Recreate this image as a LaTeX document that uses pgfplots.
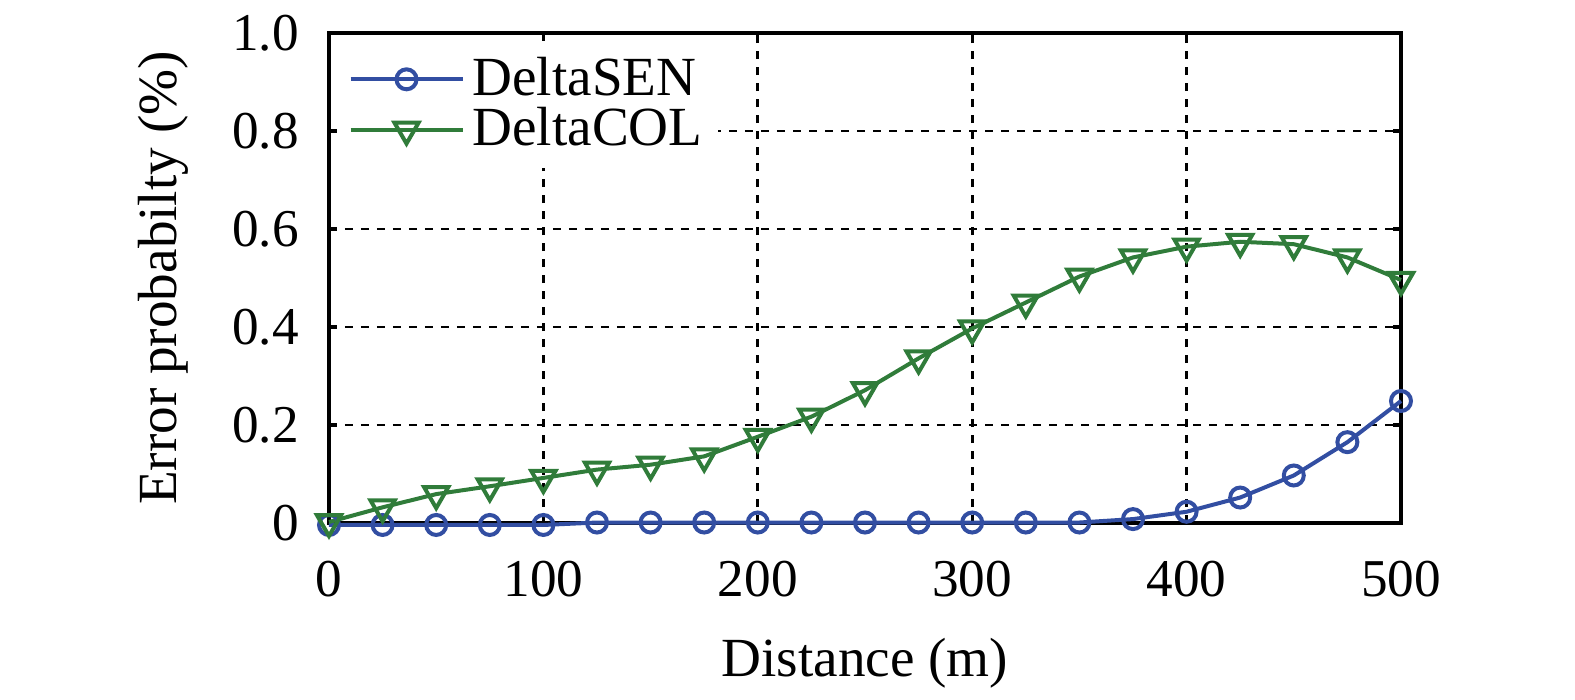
\documentclass[border=0pt]{standalone}
\usepackage{pgfplots}
\pgfplotsset{compat=1.18}
\usepackage{fontspec}
\setmainfont{Liberation Serif}
\definecolor{cblue}{RGB}{50,78,162}
\definecolor{cgreen}{RGB}{48,124,58}
\begin{document}
\begin{tikzpicture}
\begin{axis}[
  name=ax,
  scale only axis,
  width=268pt, height=122.5pt,
  xmin=0, xmax=500, ymin=0, ymax=1,
  xtick={0,100,...,500},
  ytick={0,0.2,0.4,0.6,0.8,1.0},
  yticklabels={0,0.2,0.4,0.6,0.8,1.0},
  tick align=inside,
  major tick length=2pt,
  axis line style={line width=0.9pt},
  every tick/.style={black, line width=0.8pt},
  grid=major,
  major grid style={black, line width=0.7pt, dash pattern=on 2pt off 2pt},
  /pgf/number format/assume math mode=true,
  tick label style={font=\fontsize{13.3}{14}\selectfont},
  yticklabel style={xshift=-4pt},
  xticklabel style={yshift=-6pt},
  label style={font=\fontsize{13.8}{15}\selectfont},
  xlabel={Distance (m)},
  ylabel={Error probabilty (\%)},
  xlabel style={yshift=-3.5pt},
  ylabel style={yshift=4pt},
  clip=false,
  legend style={at={(0.01,0.985)}, anchor=north west, draw=none, fill=white,
    font=\fontsize{13.8}{13.8}\selectfont, inner sep=2pt, row sep=-2.5pt},
  legend cell align=left,
  legend image code/.code={
    \draw[mark repeat=2,mark phase=2] plot coordinates {(0pt,0pt) (14pt,0pt) (28pt,0pt)};
  },
]
\addplot[cblue, line width=1pt, mark=o, mark size=2.5pt, mark options={line width=1pt}] coordinates {
(0,-0.004) (25,-0.004) (50,-0.004) (75,-0.004) (100,-0.004)
(125,0.001) (150,0.001) (175,0.001) (200,0.001) (225,0.001) (250,0.001)
(275,0.001) (300,0.001) (325,0.001) (350,0.001)
(375,0.008) (400,0.023) (425,0.052) (450,0.097) (475,0.165) (500,0.249)
};
\addlegendentry{DeltaSEN}
\addplot[cgreen, line width=1pt, mark=triangle, mark size=3.5pt, mark options={rotate=180, line width=1pt}] coordinates {
(0,0.002) (25,0.032) (50,0.059) (75,0.075) (100,0.092) (125,0.109)
(150,0.119) (175,0.136) (200,0.176) (225,0.217) (250,0.271) (275,0.336)
(300,0.397) (325,0.450) (350,0.503) (375,0.542) (400,0.564) (425,0.574)
(450,0.569) (475,0.542) (500,0.496)
};
\addlegendentry{DeltaCOL}
\end{axis}
\pgfresetboundingbox
\path[use as bounding box] ([shift={(-82.25pt,-44pt)}]ax.south west) rectangle ([shift={(43.5pt,8.25pt)}]ax.north east);
\end{tikzpicture}
\end{document}
